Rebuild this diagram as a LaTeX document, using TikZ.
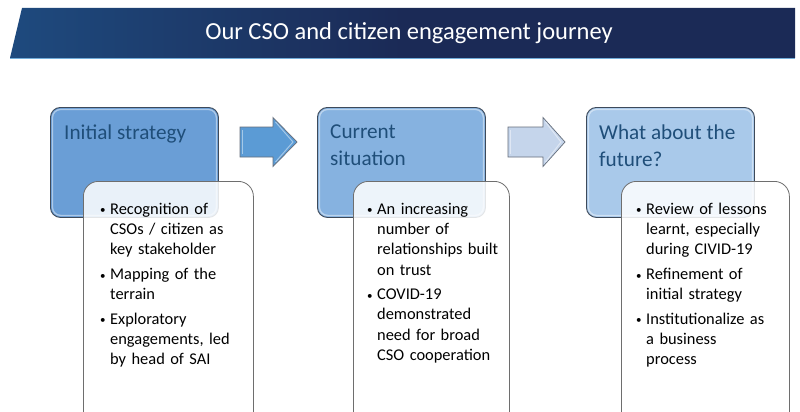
\documentclass[tikz,border=0pt]{standalone}
\usepackage{fontspec}
\setmainfont{Carlito}
\usetikzlibrary{calc}
\definecolor{navy}{HTML}{1B2A56}
\definecolor{midnavy}{HTML}{1E4A7E}
\definecolor{brightblue}{HTML}{1477C2}
\definecolor{hdrtext}{HTML}{1F4E79}
\definecolor{boxA}{HTML}{6A9ED6}
\definecolor{boxB}{HTML}{86B2E0}
\definecolor{boxC}{HTML}{A9C9EA}
\definecolor{boxline}{HTML}{3E4A5A}
\definecolor{cardline}{HTML}{6E6E6E}
\definecolor{arrowA}{HTML}{5B9BD5}
\definecolor{arrowB}{HTML}{C5D5EB}
\pgfdeclarehorizontalshading{bannershade}{100bp}{
  color(0bp)=(brightblue); color(25bp)=(midnavy); color(50bp)=(navy); color(100bp)=(navy)}
\tikzset{
  x=1pt, y=-1pt,
  stagebox/.style={draw=boxline, line width=0.9pt, rounded corners=10pt,
    anchor=north west, minimum width=168pt, minimum height=110pt, inner sep=0pt},
  bevel/.style={draw=white, draw opacity=0.45, line width=1.3pt},
  stagetitle/.style={anchor=north west, inner sep=0pt, text=hdrtext, align=left,
    font=\fontsize{21.2}{27}\selectfont},
  card/.style={draw=cardline, line width=0.8pt, rounded corners=15pt, fill=white,
    fill opacity=0.86, anchor=north west, minimum width=170pt, minimum height=250pt, inner sep=0pt},
  cardtext/.style={anchor=north west, inner sep=0pt, text width=160pt, align=left,
    font=\fontsize{16.4}{20.2}\selectfont},
  blockarrow/.style={draw=boxline!80, line width=0.7pt},
}
% bulleted paragraph with a hanging indent; lines are broken with \newline
\newcommand{\bitem}[1]{\par\hangindent=10pt\hangafter=1\noindent\makebox[10pt][l]{\raisebox{0.5pt}{\fontsize{11}{11}\selectfont\textbullet}}#1\par}
% outline of a block arrow starting at #1 (middle of its tail), #2 = length, #3 = head length
\newcommand{\arrowpath}[3]{($(#1)+(0,-15)$) -- ++(#2-#3,0) -- ++(0,-9.5) -- ($(#1)+(#2,0)$) -- ($(#1)+(#2-#3,24.5)$) -- ++(0,-9.5) -- ($(#1)+(0,15)$) -- cycle}
\begin{document}
\begin{tikzpicture}
\useasboundingbox (0,0) rectangle (800,412);
\clip (0,0) rectangle (800,412);
\fill[white] (0,0) rectangle (800,412);

% title banner
\path[shading=bannershade] (10,58) -- (22,8) -- (795,8) -- (795,58) -- cycle;
\draw[brightblue!60!white, line width=0.6pt] (10,58) -- (795,58);
\node[text=white, font=\fontsize{24.5}{28}\selectfont] (title) at (409,33) {Our CSO and citizen engagement journey};

% stage boxes
\node[stagebox, fill=boxA] (s1) at (50,107) {};
\node[stagebox, fill=boxB] (s2) at (317,107) {};
\node[stagebox, fill=boxC] (s3) at (586,107) {};
\foreach \s in {s1,s2,s3}
  \draw[bevel, rounded corners=8pt] ($(\s.north west)+(2.5,2.5)$) rectangle ($(\s.south east)+(-2.5,-2.5)$);

\node[stagetitle] (t1) at ($(s1.north west)+(14,18)$) {Initial strategy};
\node[stagetitle] (t2) at ($(s2.north west)+(13,18)$) {Current\\situation};
\node[stagetitle] (t3) at ($(s3.north west)+(13,18)$) {What about the\\future?};

% block arrows between the stages
\coordinate (a1) at (240,142);
\coordinate (a2) at (508,142);
\draw[blockarrow, fill=arrowA] \arrowpath{a1}{57}{24};
\draw[blockarrow, fill=arrowB] \arrowpath{a2}{57}{22};
\draw[bevel, line width=1pt] ($(a1)+(2.5,-12)$) -- ($(a1)+(2.5,12)$);
\draw[bevel, line width=1pt] ($(a1)+(35.5,-20)$) -- ($(a1)+(53,0)$) -- ($(a1)+(35.5,20)$);
\draw[bevel, line width=1pt] ($(a2)+(2.5,-12)$) -- ($(a2)+(2.5,12)$);
\draw[bevel, line width=1pt] ($(a2)+(37.5,-20)$) -- ($(a2)+(53,0)$) -- ($(a2)+(37.5,20)$);

% detail cards
\node[card] (c1) at (83,181) {};
\node[card, minimum width=156pt] (c2) at (353,181) {};
\node[card, minimum width=168pt] (c3) at (621,181) {};

\node[cardtext] (d1) at ($(c1.north west)+(17,13)$) {%
  \bitem{Recognition of\newline CSOs / citizen as\newline key stakeholder}\vspace{4.5pt}%
  \bitem{Mapping of the\newline terrain}\vspace{4.5pt}%
  \bitem{Exploratory\newline engagements, led\newline by head of SAI}};
\node[cardtext] (d2) at ($(c2.north west)+(14,13)$) {%
  \bitem{An increasing\newline number of\newline relationships built\newline on trust}\vspace{4.5pt}%
  \bitem{COVID-19\newline demonstrated\newline need for broad\newline CSO cooperation}};
\node[cardtext] (d3) at ($(c3.north west)+(15,13)$) {%
  \bitem{Review of lessons\newline learnt, especially\newline during CIVID-19}\vspace{4.5pt}%
  \bitem{Refinement of\newline initial strategy}\vspace{4.5pt}%
  \bitem{Institutionalize as\newline a business\newline process}};
\end{tikzpicture}
\end{document}
